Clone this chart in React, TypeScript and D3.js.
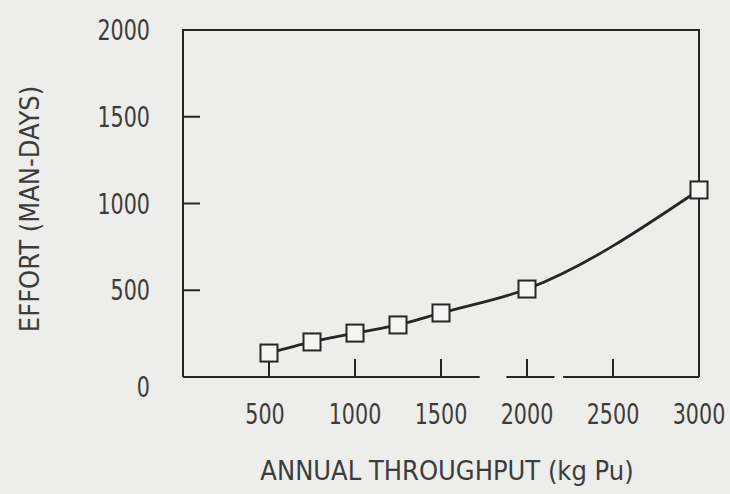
import React from "react";
import { scaleLinear, line, curveMonotoneX } from "d3";

const throughput = [500, 750, 1000, 1250, 1500, 2000, 3000];
const effort = [138, 202, 253, 300, 369, 507, 1078];
const xTicks = [500, 1000, 1500, 2000, 2500, 3000];
const yTicks = [0, 500, 1000, 1500, 2000];
// breaks in the printed x axis line (scan)
const axisGaps = [
  [1725, 1880],
  [2160, 2210],
];

const W = 730;
const H = 494;
const font = "'Liberation Sans Narrow', 'DejaVu Sans Condensed', 'Liberation Sans', sans-serif";
const ink = "#262626";
const textInk = "#3c3c3c";
const squeeze = 0.82; // tick digits are narrower than the font

export default function App() {
  const x = scaleLinear().domain([0, 3000]).range([183, 699]);
  const y = scaleLinear().domain([0, 2000]).range([377, 30]);

  const pts = throughput.map((t, i) => [t, effort[i]] as [number, number]);
  const path = line<[number, number]>()
    .x((d) => x(d[0]))
    .y((d) => y(d[1]))
    .curve(curveMonotoneX)(pts);

  // bottom axis segments around the gaps
  const segs: [number, number][] = [];
  let start = 0;
  axisGaps.forEach(([a, b]) => {
    segs.push([start, a]);
    start = b;
  });
  segs.push([start, 3000]);

  return (
    <svg
      width={W}
      height={H}
      style={{ position: "absolute", left: 0, top: 0, background: "#ededeb" }}
    >
      <rect width={W} height={H} fill="#ededeb" />

      {/* frame */}
      <path
        d={`M${x(0)},${y(0)} V${y(2000)} H${x(3000)} V${y(0)}`}
        fill="none"
        stroke={ink}
        strokeWidth={2}
      />
      {segs.map(([a, b], i) => (
        <line key={i} x1={x(a)} x2={x(b)} y1={y(0)} y2={y(0)} stroke={ink} strokeWidth={2.2} />
      ))}

      {/* y ticks (inside) */}
      {yTicks.filter((v) => v > 0 && v < 2000).map((v) => (
        <line key={v} x1={x(0)} x2={x(0) + 17} y1={y(v)} y2={y(v)} stroke={ink} strokeWidth={2} />
      ))}
      {/* x ticks (inside) */}
      {xTicks.filter((v) => v < 3000).map((v) => (
        <line key={v} x1={x(v)} x2={x(v)} y1={y(0)} y2={y(0) - 18} stroke={ink} strokeWidth={2} />
      ))}

      {/* y tick labels */}
      {yTicks.map((v) => (
        <g key={v} transform={`translate(150,${y(v) + (v === 0 ? 10 : 0)}) scale(${squeeze},1)`}>
          <text dy="0.36em" textAnchor="end" fontFamily={font} fontSize={28} fill={textInk}>
            {v}
          </text>
        </g>
      ))}

      {/* x tick labels */}
      {xTicks.map((v) => (
        <g key={v} transform={`translate(${x(v) - (v === 500 ? 4 : 0)},414) scale(${squeeze},1)`}>
          <text dy="0.36em" textAnchor="middle" fontFamily={font} fontSize={28} fill={textInk}>
            {v}
          </text>
        </g>
      ))}

      {/* curve */}
      <path d={path ?? ""} fill="none" stroke={ink} strokeWidth={2.8} />

      {/* markers */}
      {pts.map(([t, e]) => (
        <rect
          key={t}
          x={x(t) - 8.5}
          y={y(e) - 8.5}
          width={17}
          height={17}
          fill="#f4f4f2"
          stroke={ink}
          strokeWidth={2}
        />
      ))}

      {/* axis titles */}
      <text
        x={447}
        y={480}
        textAnchor="middle"
        fontFamily={font}
        fontSize={27}
        fill={textInk}
      >
        ANNUAL THROUGHPUT (kg Pu)
      </text>
      <text
        transform="translate(39,209) rotate(-90)"
        textAnchor="middle"
        fontFamily={font}
        fontSize={27}
        fill={textInk}
      >
        EFFORT (MAN-DAYS)
      </text>
    </svg>
  );
}
